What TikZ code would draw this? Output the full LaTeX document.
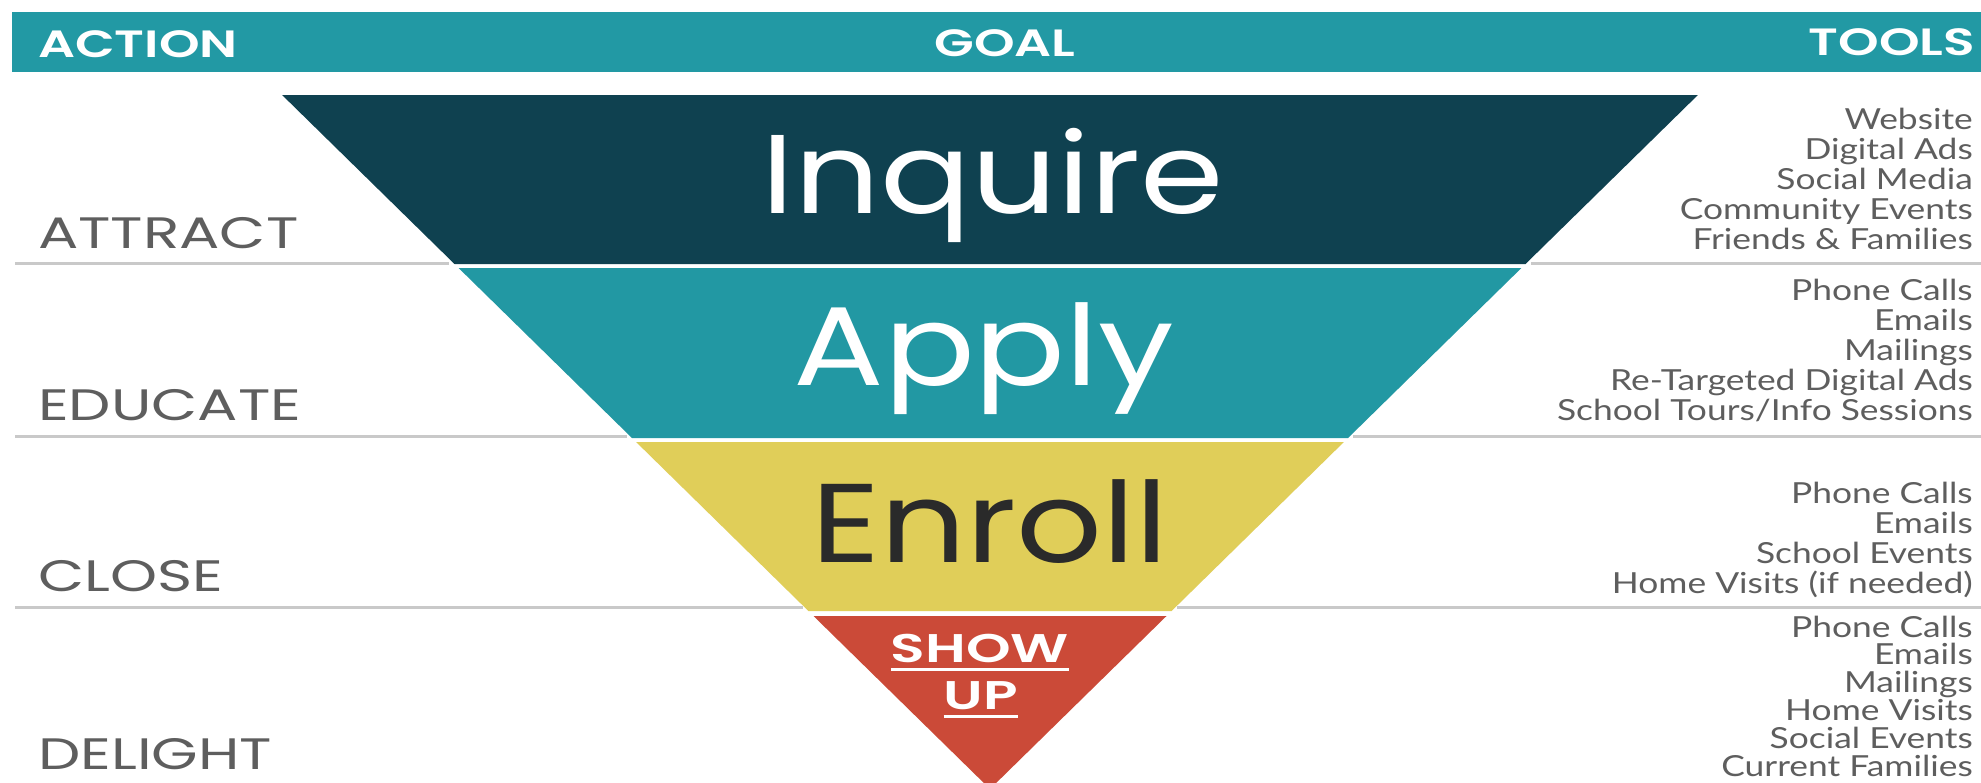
\documentclass[tikz,border=0pt]{standalone}
\usepackage{fontspec}
\setmainfont{Lato}[FakeStretch=1.22]
\newfontfamily\goalfont{Poppins}[FakeStretch=1.2]
\newfontfamily\lblfont{Poppins}[FakeStretch=1.36]
\IfFontExistsTF{Poppins SemiBold}
  {\newfontfamily\hdrfont{Poppins SemiBold}[FakeStretch=1.36]
   \newfontfamily\showfont{Poppins SemiBold}[FakeStretch=1.42]}
  {\newfontfamily\hdrfontA{Poppins}[FakeStretch=1.34]\def\hdrfont{\hdrfontA\bfseries}
   \newfontfamily\showfontA{Poppins}[FakeStretch=1.4]\def\showfont{\showfontA\bfseries}}
\definecolor{hteal}{HTML}{2299A4}
\definecolor{dteal}{HTML}{0F4150}
\definecolor{ateal}{HTML}{2298A3}
\definecolor{fyel}{HTML}{E0CE59}
\definecolor{fred}{HTML}{CB4A38}
\definecolor{gtext}{HTML}{5E5E5E}
\definecolor{gline}{HTML}{C9C9C9}
\definecolor{etext}{HTML}{2A2A2A}
\begin{document}
\begin{tikzpicture}[x=1pt,y=-1pt,
  hdr/.style={inner sep=0pt, text=white, font=\hdrfont\fontsize{38}{38}\selectfont},
  goalw/.style={inner sep=0pt, anchor=base, font=\goalfont\fontsize{112}{112}\selectfont},
  showup/.style={inner sep=0pt, text=white, anchor=base, font=\showfont\fontsize{40}{40}\selectfont},
  actlbl/.style={inner sep=0pt, text=gtext, anchor=base west, text depth=0pt, font=\lblfont\fontsize{44}{44}\selectfont},
  tool/.style={inner sep=0pt, text=gtext, anchor=base east, font=\fontsize{29}{30}\selectfont},
  sep/.style={draw=gline, line width=3pt},
  uline/.style={draw=white, line width=3pt}]
\useasboundingbox (0,0) rectangle (1981,782);
\fill[white] (0,0) rectangle (1981,782);
% header bar
\fill[hteal] (12,12) rectangle (1981,72);
\node[hdr, anchor=base west] (action) at (38,57) {ACTION};
\node[hdr, anchor=base] (goal) at (1005,56) {GOAL};
\node[hdr, anchor=base east] (tools) at (1975,55) {TOOLS};
% funnel bands
\fill[dteal] (282.1,95) -- (1697.9,95) -- (1525.5,264) -- (454.5,264) -- cycle;
\fill[ateal] (458.6,268) -- (1521.4,268) -- (1348.0,438) -- (632.0,438) -- cycle;
\fill[fyel] (636.1,442) -- (1343.9,442) -- (1171.6,611) -- (808.4,611) -- cycle;
\fill[fred] (813.5,616) -- (1166.5,616) -- (990,789) -- cycle;
% separators
\draw[sep] (15,263) -- (449,263);
\draw[sep] (1531,263) -- (1981,263);
\draw[sep] (15,436) -- (627,436);
\draw[sep] (1353,436) -- (1981,436);
\draw[sep] (15,607) -- (803,607);
\draw[sep] (1177,607) -- (1981,607);
% goal words
\node[goalw, text=white] (inquire) at (993,213) {Inquire};
\node[goalw, text=white] (apply) at (984,385) {Apply};
\node[goalw, text=etext] (enroll) at (990,562) {Enroll};
\node[showup] (show) at (980,662) {SHOW};
\node[showup] (up) at (981,709) {UP};
\draw[uline] ([yshift=-7pt]show.base west) -- ([yshift=-7pt]show.base east);
\draw[uline] ([yshift=-7pt]up.base west) -- ([yshift=-7pt]up.base east);
% action labels
\node[actlbl] (attract) at (38,248) {ATTRACT};
\node[actlbl] (educate) at (38,420) {EDUCATE};
\node[actlbl] (close) at (38,591) {CLOSE};
\node[actlbl] (delight) at (38,769) {DELIGHT};
% tools
\foreach \t [count=\i] in {Website, Digital Ads, Social Media, Community Events, Friends \& Families}
  \node[tool] (ta\i) at (1973,{129+30*(\i-1)}) {\t};
\foreach \t [count=\i] in {Phone Calls, Emails, Mailings, Re-Targeted Digital Ads, School Tours/Info Sessions}
  \node[tool] (tb\i) at (1973,{300+30*(\i-1)}) {\t};
\foreach \t [count=\i] in {Phone Calls, Emails, School Events, Home Visits (if needed)}
  \node[tool] (tc\i) at (1973,{503+30.3*(\i-1)}) {\t};
\foreach \t [count=\i] in {Phone Calls, Emails, Mailings, Home Visits, Social Events, Current Families}
  \node[tool] (td\i) at (1973,{637+27.8*(\i-1)}) {\t};
\end{tikzpicture}
\end{document}
